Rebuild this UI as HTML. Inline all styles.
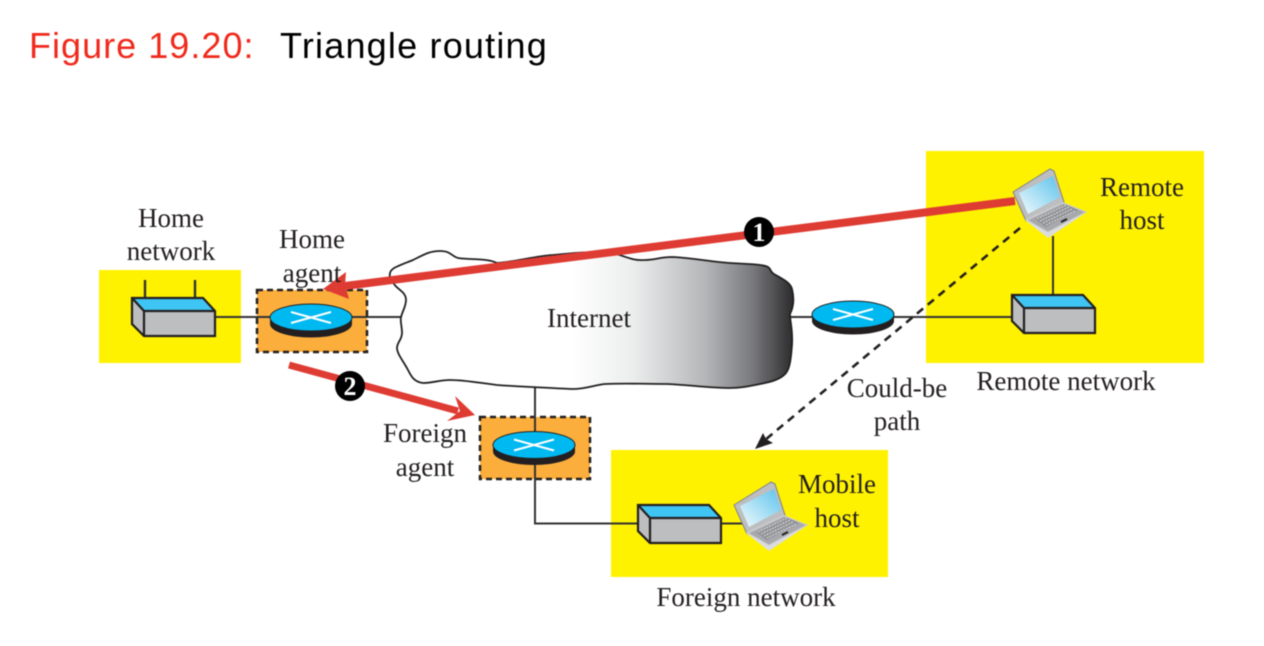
<!DOCTYPE html>
<html><head><meta charset="utf-8"><style>
html,body{margin:0;padding:0;background:#fff}
svg{display:block;filter:blur(0.4px)}
.t{font-family:"Liberation Serif",serif;font-size:27px;fill:#231f20;text-anchor:middle}
.h{font-family:"Liberation Sans",sans-serif;font-size:36px;letter-spacing:1.03px}
.n{font-family:"Liberation Serif",serif;font-size:26px;font-weight:bold;fill:#fff;text-anchor:middle}
</style></head><body>
<svg width="1264" height="646" viewBox="0 0 1264 646" xmlns="http://www.w3.org/2000/svg">
<defs>
<linearGradient id="cg" gradientUnits="userSpaceOnUse" x1="390" y1="0" x2="794" y2="0">
<stop offset="0" stop-color="#fff"/><stop offset="0.45" stop-color="#fff"/><stop offset="0.6" stop-color="#eceeee"/><stop offset="0.78" stop-color="#b4b6b8"/><stop offset="0.9" stop-color="#77787b"/><stop offset="1" stop-color="#2b2a2b"/>
</linearGradient>
<linearGradient id="sc" x1="0" y1="1" x2="1" y2="0"><stop offset="0" stop-color="#f2fafd"/><stop offset="1" stop-color="#5cc3ec"/></linearGradient>
<g id="dev">
<polygon points="132,298 203,298 215,311 144,311" fill="#3fc5f3"/>
<polygon points="144,311 215,311 215,336 144,336" fill="#bcbec0"/>
<polygon points="132,298 144,311 144,336 132,324" fill="#bcbec0"/>
<path d="M132,298H203L215,311V336H144L132,324ZM132,298L144,311H215M144,311V336" fill="none" stroke="#231f20" stroke-width="2.2"/>
</g>
<g id="rt">
<path d="M270,318V324A41,13.5 0 0 0 352,324V318Z" fill="#231f20"/>
<ellipse cx="311" cy="317.5" rx="41" ry="13.5" fill="#00b9f1" stroke="#231f20" stroke-width="1"/>
<path d="M291,312L331,323M331,312L291,323" stroke="#fff" stroke-width="2" fill="none"/>
</g>
<g id="lap">
<polygon points="1013,192 1050,169 1054,171 1064,202 1026,221" fill="#bcbec0" stroke="#808285" stroke-width="1"/>
<polygon points="1019,193 1053,176 1060,197 1028,214" fill="url(#sc)"/>
<polygon points="1025,220 1063,202 1087,212 1048,238" fill="#dcddde"/>
<polygon points="1027,220 1063,203 1086,212 1048,232" fill="#a7a9ac" stroke="#c9cbcd" stroke-width="1"/>
<polygon points="1035,219 1065,204 1078,210 1046,227" fill="#8f9194"/>
<path d="M1037,219L1066,205M1040,221L1069,207M1043,223L1072,209M1046,225L1075,211" stroke="#d5d6d8" stroke-width="1.2" stroke-dasharray="2 1" fill="none"/>
<path d="M1061,222L1067,219" stroke="#231f20" stroke-width="2"/>
</g>
</defs>

<text x="29" y="58" class="h" fill="#f02a1c">Figure 19.20:</text>
<text x="280" y="58" class="h" fill="#000" style="letter-spacing:1.2px">Triangle routing</text>

<rect x="99" y="270" width="142" height="93" fill="#fff200"/>
<rect x="926" y="151" width="278" height="212" fill="#fff200"/>
<rect x="611" y="450" width="277" height="127" fill="#fff200"/>

<rect x="257" y="290" width="110" height="62" fill="#fbae3c" stroke="#231f20" stroke-width="2.5" stroke-dasharray="6 4"/>
<rect x="480" y="417" width="110" height="62" fill="#fbae3c" stroke="#231f20" stroke-width="2.5" stroke-dasharray="6 4"/>

<g stroke="#333" stroke-width="2" fill="none">
<path d="M215,317H402"/>
<path d="M788,317H1012"/>
<path d="M535,388V523.5H640"/>
<path d="M720,523.5H742"/>
<path d="M1053,236V302"/>
<path d="M145,280V305M195,280V305" stroke-width="2.4"/>
</g>

<path d="M390,273C391,268 398,266 413,260C425,254 430,251 440,251C451,251 451,256 458,258C470,260 487,258 497,263C515,262 535,256 553,255C575,253 595,251 613,253C625,256 632,261 645,260C655,260 660,257 672,257C695,258 712,262 730,263C745,264 762,264 768,267C772,270 770,272 774,274C782,279 790,282 792,289C794,297 794,306 790,314C790,322 793,330 792,345C791,358 790,368 786,373C780,380 770,382 760,384C750,386 742,388 730,388C710,388 690,385 667,384C645,384 625,383 605,384C595,385 585,389 573,389C550,388 525,387 497,385C480,383 465,380 450,380C440,380 432,383 423,383C414,382 411,376 408,370C404,362 397,354 397,348C397,342 402,340 402,333C402,326 400,322 401,317C403,310 406,306 406,300C406,292 398,290 394,284C391,279 389,278 390,273Z" fill="url(#cg)" stroke="#231f20" stroke-width="1.8"/>

<use href="#dev"/>
<use href="#dev" transform="translate(880,-3)"/>
<use href="#dev" transform="translate(506,207)"/>
<use href="#rt"/>
<use href="#rt" transform="translate(223,127.5)"/>
<use href="#rt" transform="translate(542,-3)"/>
<use href="#lap"/>
<use href="#lap" transform="translate(-279,313)"/>

<path d="M1020,228L765,440" stroke="#231f20" stroke-width="2.6" stroke-dasharray="8 6" fill="none"/>
<polygon points="755,449 763,433 766,439 773,443" fill="#231f20"/>

<path d="M1015,201L345,286" stroke="#de3b33" stroke-width="8" fill="none"/>
<polygon points="323,289 346,272 345,285 349,299" fill="#de3b33"/>
<path d="M289,365L458,411" stroke="#de3b33" stroke-width="7" fill="none"/>
<polygon points="475,415 455,396 460,411 447,421" fill="#de3b33"/>

<circle cx="759" cy="232" r="15" fill="#000"/>
<text x="759" y="241" class="n">1</text>
<circle cx="350" cy="386" r="15" fill="#000"/>
<text x="350" y="395" class="n">2</text>

<text x="171" y="227" class="t">Home</text>
<text x="171" y="260" class="t">network</text>
<text x="312" y="248" class="t">Home</text>
<text x="312" y="282" class="t">agent</text>
<text x="589" y="327" class="t">Internet</text>
<text x="1142" y="196" class="t">Remote</text>
<text x="1142" y="229" class="t">host</text>
<text x="1066" y="390" class="t">Remote network</text>
<text x="897" y="397" class="t">Could-be</text>
<text x="897" y="430" class="t">path</text>
<text x="425" y="442" class="t">Foreign</text>
<text x="425" y="476" class="t">agent</text>
<text x="837" y="493" class="t">Mobile</text>
<text x="837" y="527" class="t">host</text>
<text x="746" y="606" class="t">Foreign network</text>
</svg>
</body></html>
